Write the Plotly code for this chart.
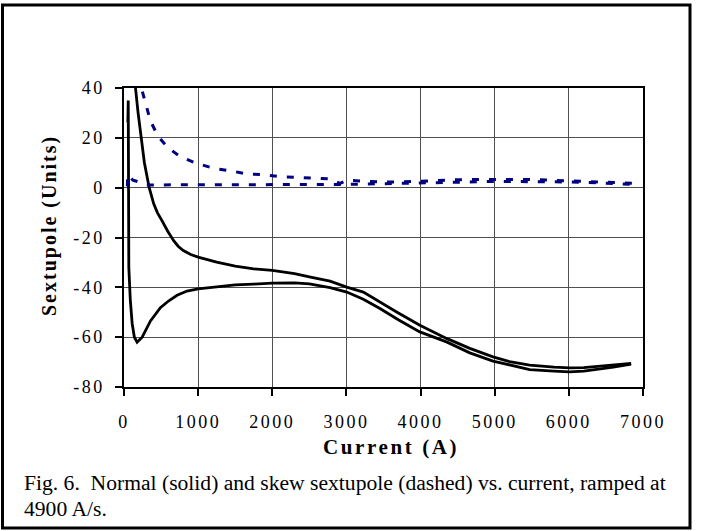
import plotly.graph_objects as go

# ---- data ----
# Normal sextupole (solid), up-ramp branch
normal_up_I = [52, 55, 57, 60, 63, 65, 85, 110, 140, 177, 245, 300, 357, 491, 600, 716, 850,
               1000, 1250, 1500, 1750, 2000, 2300, 2500, 2779, 3004, 3228, 3452, 3700, 3990,
               4350, 4664, 4977, 5200, 5471, 5800, 6010, 6200, 6369, 6600, 6840]
normal_up_v = [26, 33, 35, 12, -8, -32, -45, -54.5, -60, -62, -60, -56.5, -53.5, -48.2, -45.5,
               -43.2, -41.5, -40.6, -39.8, -39.0, -38.7, -38.3, -38.2, -38.6, -40.1, -41.9,
               -44.8, -48.5, -53.0, -57.9, -61.9, -66.3, -69.6, -71.2, -73.0, -73.6, -73.9,
               -73.6, -73.0, -72.0, -70.8]
# Normal sextupole (solid), down-ramp branch
normal_dn_I = [6840, 6600, 6369, 6200, 6010, 5800, 5471, 5200, 4977, 4664, 4350, 3990, 3677,
               3452, 3228, 3004, 2779, 2500, 2300, 2000, 1750, 1500, 1250, 1000, 900, 800, 730,
               670, 590, 514, 450, 401, 370, 340, 275, 231, 190, 155, 145]
normal_dn_v = [-70.5, -71.2, -71.9, -72.2, -72.3, -72.0, -71.2, -69.8, -67.9, -64.5, -60.5,
               -55.2, -49.9, -46.0, -41.9, -39.9, -37.5, -35.8, -34.5, -33.2, -32.6, -31.5,
               -29.9, -27.9, -26.8, -25.2, -23.5, -21.3, -17.5, -13.3, -10.0, -6.5, -3.5, 0.0,
               10.0, 20.0, 30.0, 40.0, 44.0]
# Skew sextupole (dashed), up-ramp branch
skew_up_I = [45, 51, 120, 222, 300, 500, 1000, 1500, 2000, 2500, 2900, 3000, 3500, 4000,
             4500, 5000, 5500, 6000, 6500, 6850]
skew_up_v = [0.5, 5.2, 3.0, 2.1, 1.1, 1.1, 1.1, 1.1, 1.1, 1.1, 1.2, 1.3, 1.6, 2.0, 2.2, 2.5,
             2.5, 2.3, 1.8, 1.3]
# Skew sextupole (dashed), down-ramp branch
skew_dn_I = [6850, 6500, 6000, 5500, 5000, 4500, 4000, 3500, 3004, 2914, 2779, 2555, 2331,
             2106, 1882, 1658, 1433, 1218, 985, 760, 590, 455, 357, 312, 245, 210]
skew_dn_v = [1.8, 2.2, 2.8, 3.3, 3.3, 3.2, 2.6, 2.2, 3.0, 1.7, 3.5, 3.7, 4.1, 4.4, 5.2, 5.5,
             6.8, 7.7, 9.7, 12.4, 16.1, 20.8, 26.8, 32.1, 38.8, 45.0]

x_tickvals = [0, 1000, 2000, 3000, 4000, 5000, 6000, 7000]
x_ticklabels = ["0", "1000", "2000", "3000", "4000", "5000", "6000", "7000"]
y_tickvals = [-80, -60, -40, -20, 0, 20, 40]
y_ticklabels = ["-80", "-60", "-40", "-20", "0", "20", "40"]

x_title = "Current (A)"
y_title = "Sextupole (Units)"
caption_1 = "Fig. 6.  Normal (solid) and skew sextupole (dashed) vs. current, ramped at"
caption_2 = "4900 A/s."

FONT = "Liberation Serif, Times New Roman, serif"


def spaced(s, px):
    return '<span style="letter-spacing:%.1fpx">%s</span>' % (px, s)


fig = go.Figure()
solid = dict(color="black", width=2.8)
dashed = dict(color="#000080", width=3, dash="7px,10px")
fig.add_trace(go.Scatter(x=normal_up_I, y=normal_up_v, mode="lines", line=solid))
fig.add_trace(go.Scatter(x=normal_dn_I, y=normal_dn_v, mode="lines", line=solid))
fig.add_trace(go.Scatter(x=skew_up_I, y=skew_up_v, mode="lines", line=dashed))
fig.add_trace(go.Scatter(x=skew_dn_I, y=skew_dn_v, mode="lines", line=dashed))

W, H = 701, 531
L, R, T, B = 124, 58, 88, 144
pw, ph = W - L - R, H - T - B


def px_x(p):
    return (p - L) / pw


def px_y(p):
    return (H - B - p) / ph


fig.update_layout(
    width=W, height=H,
    margin=dict(l=L, r=R, t=T, b=B, pad=0),
    paper_bgcolor="white", plot_bgcolor="white",
    showlegend=False,
    font=dict(family=FONT, color="black"),
    xaxis=dict(range=[0, 7000], tickvals=x_tickvals,
               ticktext=[spaced(t, 2.5) for t in x_ticklabels],
               tickfont=dict(size=18, family=FONT, color="black"),
               showgrid=True, gridcolor="#505050", gridwidth=1,
               showline=True, linecolor="black", linewidth=1.5, mirror=True,
               ticks="outside", ticklen=7, tickcolor="black", tickwidth=1.5,
               ticklabelstandoff=11, zeroline=False, fixedrange=True),
    yaxis=dict(range=[-80, 40], tickvals=y_tickvals,
               ticktext=[spaced(t, 2.5) for t in y_ticklabels],
               tickfont=dict(size=18, family=FONT, color="black"),
               showgrid=True, gridcolor="#505050", gridwidth=1,
               showline=True, linecolor="black", linewidth=1.5, mirror=True,
               ticks="outside", ticklen=7, tickcolor="black", tickwidth=1.5,
               ticklabelstandoff=7, zeroline=False, fixedrange=True),
)

fig.add_annotation(x=px_x(391), y=px_y(447), xref="paper", yref="paper",
                   text="<b>" + spaced(x_title, 2.6) + "</b>", showarrow=False,
                   xanchor="center", yanchor="middle",
                   font=dict(size=21, family=FONT, color="black"))
fig.add_annotation(x=px_x(49), y=px_y(226), xref="paper", yref="paper",
                   text="<b>" + spaced(y_title, 2.0) + "</b>", showarrow=False,
                   textangle=-90, xanchor="center", yanchor="middle",
                   font=dict(size=20, family=FONT, color="black"))
fig.add_annotation(x=px_x(22), y=px_y(483), xref="paper", yref="paper",
                   text=caption_1, showarrow=False, xanchor="left", yanchor="middle",
                   font=dict(size=21.6, family=FONT, color="black"))
fig.add_annotation(x=px_x(22), y=px_y(509), xref="paper", yref="paper",
                   text=caption_2, showarrow=False, xanchor="left", yanchor="middle",
                   font=dict(size=21.6, family=FONT, color="black"))

fig.add_shape(type="rect", xref="paper", yref="paper",
              x0=px_x(2.5), x1=px_x(690), y0=px_y(528), y1=px_y(5),
              line=dict(color="black", width=3), fillcolor="rgba(0,0,0,0)", layer="above")

fig.write_html("out.html", post_script="document.body.style.margin='0';",
               config={"displayModeBar": False})
